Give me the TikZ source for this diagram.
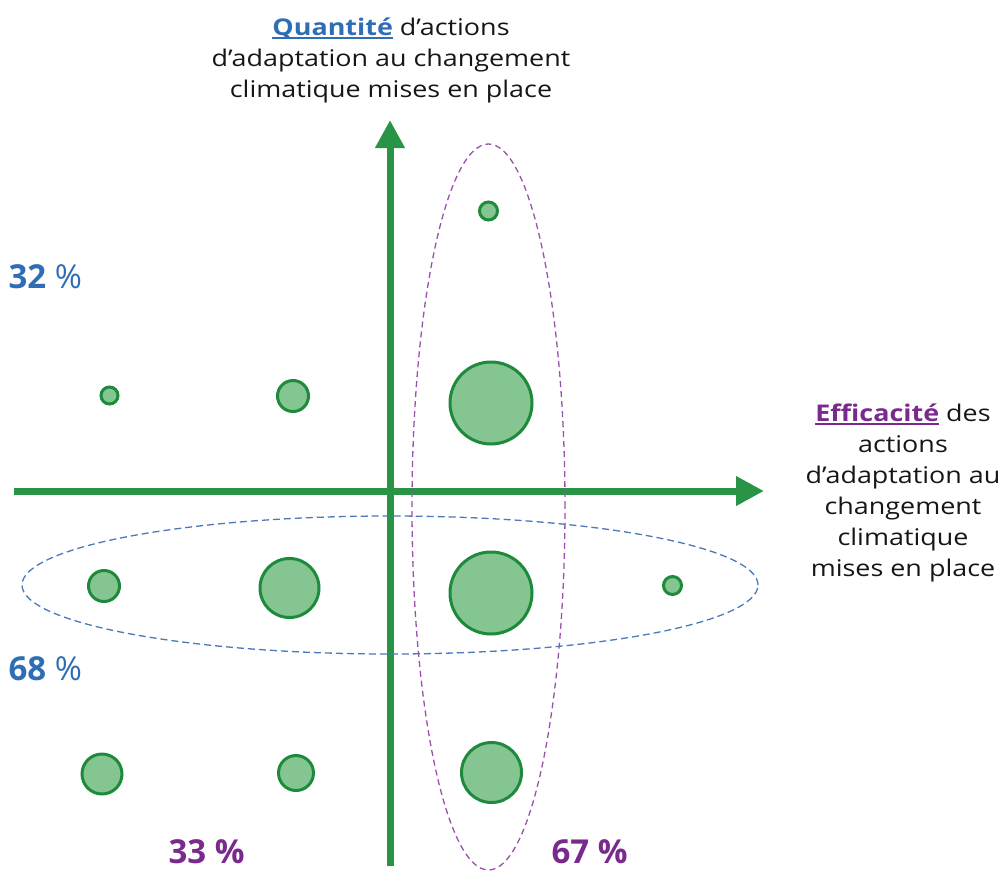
\documentclass[tikz,border=0pt]{standalone}
\usepackage{fontspec}
\setmainfont[FakeStretch=1.17]{Open Sans}
\newfontfamily\pctfont{Open Sans}
\usetikzlibrary{arrows.meta,shapes.geometric}
\definecolor{axisgreen}{HTML}{2A9446}
\definecolor{dotstroke}{HTML}{1E8A3C}
\definecolor{dotfill}{HTML}{85C591}
\definecolor{qblue}{HTML}{2F6DB5}
\definecolor{epurple}{HTML}{7A2A8C}
\definecolor{dashblue}{HTML}{4A7AB8}
\definecolor{dashpurple}{HTML}{9B50B0}
\definecolor{txt}{HTML}{161616}
\newcommand{\thickul}[1]{\setbox0\hbox{#1}\rlap{\raisebox{-3.5pt}{\rule{\wd0}{1.6pt}}}\box0}
\tikzset{
  axis/.style={line width=7pt, axisgreen, -{Triangle[length=28pt,width=28pt]}},
  dot/.style={circle, draw=dotstroke, fill=dotfill, line width=3pt, inner sep=0pt},
  blueell/.style={ellipse, draw=dashblue, line width=1.3pt, dash pattern=on 7pt off 4pt, inner sep=0pt},
  purpell/.style={ellipse, draw=dashpurple, line width=1.3pt, dash pattern=on 6pt off 4pt, inner sep=0pt},
  axlabel/.style={align=center, text=txt, font=\fontsize{23}{31}\selectfont},
  pct/.style={anchor=west, font=\pctfont\fontsize{33}{36}\selectfont},
}
\begin{document}
\begin{tikzpicture}[x=1pt,y=-1pt]
\useasboundingbox (0,0) rectangle (1006,870);
% axes
\coordinate (vbot) at (390,866);
\coordinate (vtop) at (390,120);
\coordinate (hleft) at (14,491);
\coordinate (hright) at (764,491);
\draw[axis] (vbot) -- (vtop);
\draw[axis] (hleft) -- (hright);
% ellipses
\node[purpell, minimum width=153pt, minimum height=726pt] (pell) at (488.5,507) {};
\node[blueell, minimum width=736pt, minimum height=138pt] (bell) at (390,585) {};
% dots
\node[dot, minimum size=18pt] (d1) at (488.5,211) {};
\node[dot, minimum size=17pt] (d2) at (109.5,395.5) {};
\node[dot, minimum size=31pt] (d3) at (293,396) {};
\node[dot, minimum size=82pt] (d4) at (491,403) {};
\node[dot, minimum size=31pt] (d5) at (104,586) {};
\node[dot, minimum size=59pt] (d6) at (289.5,588) {};
\node[dot, minimum size=82pt] (d7) at (491,593) {};
\node[dot, minimum size=18pt] (d8) at (672.5,585.5) {};
\node[dot, minimum size=40pt] (d9) at (102,774) {};
\node[dot, minimum size=35pt] (d10) at (296,773) {};
\node[dot, minimum size=60pt] (d11) at (491.5,772.5) {};
% axis labels
\node[axlabel] (ylab) at (391,60) {{\color{qblue}\thickul{\textbf{Quantité}}} d’actions\\d’adaptation au changement\\climatique mises en place};
\node[axlabel] (xlab) at (903,493) {{\color{epurple}\thickul{\textbf{Efficacité}}} des\\actions\\d’adaptation au\\changement\\climatique\\mises en place};
% percentages
\node[pct, text=qblue] (p32) at (5,277) {\textbf{32} \%};
\node[pct, text=qblue] (p68) at (5,669) {\textbf{68} \%};
\node[pct, text=epurple] (p33) at (165,852) {\textbf{33 \%}};
\node[pct, text=epurple] (p67) at (548,852) {\textbf{67 \%}};
\end{tikzpicture}
\end{document}
